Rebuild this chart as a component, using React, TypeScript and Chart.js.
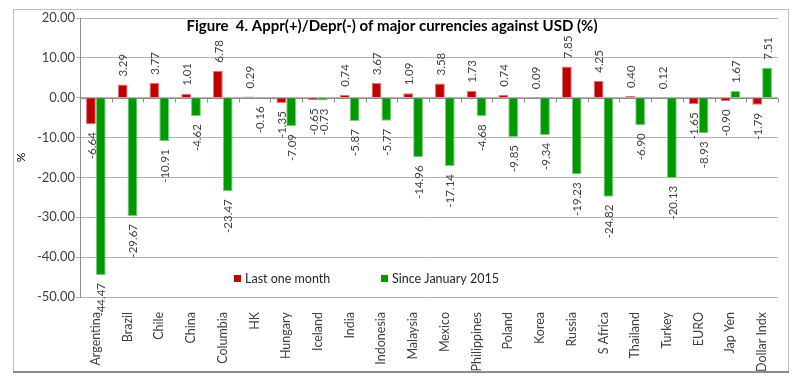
import { useEffect, useRef } from "react";
import { Chart, registerables } from "chart.js";
Chart.register(...registerables);

const categories = [
  "Argentina", "Brazil", "Chile", "China", "Columbia", "HK", "Hungary", "Iceland",
  "India", "Indonesia", "Malaysia", "Mexico", "Philippines", "Poland", "Korea",
  "Russia", "S Africa", "Thailand", "Turkey", "EURO", "Jap Yen", "Dollar Indx",
];
const lastOneMonth = [
  -6.64, 3.29, 3.77, 1.01, 6.78, 0.29, -1.35, -0.65, 0.74, 3.67, 1.09, 3.58,
  1.73, 0.74, 0.09, 7.85, 4.25, 0.4, 0.12, -1.65, -0.9, -1.79,
];
const sinceJan2015 = [
  -44.47, -29.67, -10.91, -4.62, -23.47, -0.16, -7.09, -0.73, -5.87, -5.77, -14.96, -17.14,
  -4.68, -9.85, -9.34, -19.23, -24.82, -6.9, -20.13, -8.93, 1.67, 7.51,
];
const seriesNames = ["Last one month", "Since January 2015"];
const yTickValues = [20, 10, 0, -10, -20, -30, -40, -50];
const titleText = "Figure  4. Appr(+)/Depr(-) of major currencies against USD (%)";
const yAxisTitle = "%";

const FONT = "Lato, 'Liberation Sans', sans-serif";
const TEXT = "#404040";
const RED = "#c00000";
const GREEN = "#009a00";

const framePlugin = {
  id: "frame",
  beforeDraw(chart: any) {
    const ctx = chart.ctx;
    ctx.save();
    ctx.fillStyle = "#ffffff";
    ctx.fillRect(0, 0, chart.width, chart.height);
    ctx.strokeStyle = "#bfbfbf";
    ctx.lineWidth = 1;
    ctx.strokeRect(13.5, 9.5, 775, 362);
    ctx.strokeStyle = "#8c8c8c";
    ctx.lineWidth = 2;
    ctx.beginPath();
    ctx.moveTo(13, 372);
    ctx.lineTo(789, 372);
    ctx.stroke();
    ctx.restore();
  },
};

const zeroAxisPlugin = {
  id: "zeroAxis",
  beforeDatasetsDraw(chart: any) {
    const ctx = chart.ctx;
    const x = chart.scales.x;
    const y = chart.scales.y;
    const y0 = Math.round(y.getPixelForValue(0)) + 0.5;
    ctx.save();
    ctx.strokeStyle = "#8c8c8c";
    ctx.lineWidth = 1;
    ctx.beginPath();
    ctx.moveTo(chart.chartArea.left, y0);
    ctx.lineTo(chart.chartArea.right, y0);
    const n = categories.length;
    for (let i = 0; i <= n; i++) {
      let px;
      if (i === 0) px = chart.chartArea.left;
      else if (i === n) px = chart.chartArea.right;
      else px = (x.getPixelForValue(i - 1) + x.getPixelForValue(i)) / 2;
      const rx = Math.round(px) + 0.5;
      ctx.moveTo(rx, y0);
      ctx.lineTo(rx, y0 + 4);
    }
    ctx.stroke();
    ctx.restore();
  },
};

const labelsPlugin = {
  id: "barLabels",
  afterDatasetsDraw(chart: any) {
    const ctx = chart.ctx;
    ctx.save();
    ctx.font = `11.5px ${FONT}`;
    ctx.fillStyle = TEXT;
    ctx.textBaseline = "middle";
    chart.data.datasets.forEach((ds: any, di: number) => {
      const meta = chart.getDatasetMeta(di);
      meta.data.forEach((bar: any, i: number) => {
        const v = ds.data[i];
        const txt = v.toFixed(2);
        ctx.save();
        if (v >= 0) {
          ctx.translate(bar.x + 1, bar.y - 8);
          ctx.rotate(-Math.PI / 2);
          ctx.textAlign = "left";
        } else {
          ctx.translate(bar.x + 1, bar.y + 8);
          ctx.rotate(-Math.PI / 2);
          ctx.textAlign = "right";
        }
        ctx.fillText(txt, 0, 0);
        ctx.restore();
      });
    });
    ctx.restore();
  },
};

const titlePlugin = {
  id: "figTitle",
  afterDraw(chart: any) {
    const ctx = chart.ctx;
    ctx.save();
    ctx.font = `bold 15px ${FONT}`;
    ctx.fillStyle = "#000000";
    ctx.textAlign = "center";
    ctx.textBaseline = "middle";
    ctx.fillText(titleText, 392, 26);
    ctx.restore();
  },
};

const legendPlugin = {
  id: "customLegend",
  afterDraw(chart: any) {
    const ctx = chart.ctx;
    const items = [
      { x: 234, color: RED, label: seriesNames[0] },
      { x: 381, color: GREEN, label: seriesNames[1] },
    ];
    ctx.save();
    ctx.font = `12.5px ${FONT}`;
    ctx.textBaseline = "middle";
    ctx.textAlign = "left";
    items.forEach((it) => {
      ctx.fillStyle = it.color;
      ctx.fillRect(it.x, 275, 7, 7);
      ctx.fillStyle = "#262626";
      ctx.fillText(it.label, it.x + 11, 278.5);
    });
    ctx.restore();
  },
};

export default function App() {
  const ref = useRef<HTMLCanvasElement | null>(null);
  useEffect(() => {
    if (!ref.current) return;
    const chart = new Chart(ref.current, {
      type: "bar",
      data: {
        labels: categories,
        datasets: [
          {
            label: seriesNames[0],
            data: lastOneMonth,
            backgroundColor: RED,
            borderColor: "#e07a7a",
            borderWidth: 1,
            categoryPercentage: 0.62,
            barPercentage: 1,
          },
          {
            label: seriesNames[1],
            data: sinceJan2015,
            backgroundColor: GREEN,
            borderColor: "#7fcc7f",
            borderWidth: 1,
            categoryPercentage: 0.62,
            barPercentage: 1,
          },
        ],
      },
      options: {
        animation: false,
        responsive: false,
        maintainAspectRatio: false,
        layout: { padding: { left: 14, right: 26, top: 18, bottom: 14 } },
        plugins: {
          legend: { display: false },
          title: { display: false },
          tooltip: { enabled: false },
        },
        scales: {
          x: {
            grid: { display: false },
            border: { display: false },
            ticks: {
              autoSkip: false,
              minRotation: 90,
              maxRotation: 90,
              padding: 7,
              color: TEXT,
              font: { family: FONT, size: 12.5 },
            },
            afterFit(scale: any) {
              scale.height = 75;
            },
          },
          y: {
            min: -50,
            max: 20,
            afterBuildTicks(scale: any) {
              scale.ticks = yTickValues.map((v) => ({ value: v }));
            },
            grid: {
              color: "#b3b3b3",
              tickColor: "#b3b3b3",
              tickLength: 4,
            },
            border: { color: "#8c8c8c" },
            ticks: {
              padding: 1,
              color: TEXT,
              font: { family: FONT, size: 13 },
              callback: (v: any) => Number(v).toFixed(2),
            },
            title: {
              display: true,
              text: yAxisTitle,
              color: "#000000",
              padding: 0,
              font: { family: FONT, size: 12 },
            },
            afterFit(scale: any) {
              scale.width = 66;
            },
          },
        },
      },
      plugins: [framePlugin, zeroAxisPlugin, labelsPlugin, titlePlugin, legendPlugin],
    });
    return () => chart.destroy();
  }, []);
  return (
    <div style={{ position: "fixed", left: 0, top: 0, width: 804, height: 386 }}>
      <canvas ref={ref} width={804} height={386} style={{ width: 804, height: 386 }} />
    </div>
  );
}
